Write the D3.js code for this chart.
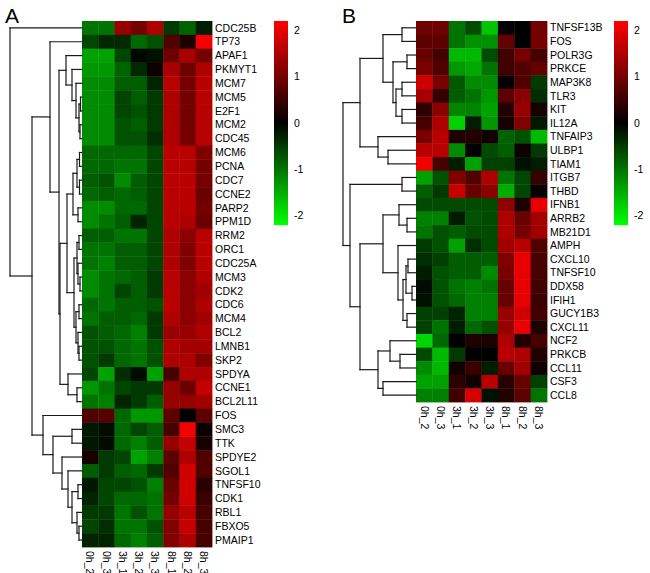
<!DOCTYPE html>
<html>
<head>
<meta charset="utf-8">
<script src="https://cdn.jsdelivr.net/npm/d3@7"></script>
<style>
  body { margin: 0; background: #fff; }
  text { font-family: "Liberation Sans", Arial, sans-serif; }
</style>
</head>
<body>
<svg id="chart" width="650" height="573"></svg>
<script>
// samples (columns), same for both panels
var samples = ["0h_2", "0h_3", "3h_1", "3h_2", "3h_3", "8h_1", "8h_2", "8h_3"];
var legendTicks = [2, 1, 0, -1, -2];

// panel A genes in row order
var genesA = ["CDC25B","TP73","APAF1","PKMYT1","MCM7","MCM5","E2F1","MCM2","CDC45","MCM6",
  "PCNA","CDC7","CCNE2","PARP2","PPM1D","RRM2","ORC1","CDC25A","MCM3","CDK2","CDC6","MCM4",
  "BCL2","LMNB1","SKP2","SPDYA","CCNE1","BCL2L11","FOS","SMC3","TTK","SPDYE2","SGOL1",
  "TNFSF10","CDK1","RBL1","FBXO5","PMAIP1"];

// z-scores, one row per gene, columns follow samples
var valuesA = [
  [-1.0,-1.0, 1.3, 1.0, 1.5,-0.5,-0.85,-0.25],
  [-0.6,-0.35,-0.35,-0.9,-0.7, 0.7, 0.25, 2.1],
  [-1.4,-1.4,-0.6,-0.05,-0.15, 0.95, 1.45, 1.0],
  [-1.3,-1.3,-0.85,-0.35, 0.1, 1.45, 0.95, 1.5],
  [-1.2,-1.2,-0.8,-0.8,-0.3, 1.6, 1.0, 1.6],
  [-1.2,-1.2,-0.6,-0.8,-0.5, 1.5, 1.0, 1.6],
  [-1.2,-1.2,-0.6,-0.7,-0.5, 1.5, 1.0, 1.6],
  [-1.2,-1.2,-0.7,-0.8,-0.5, 1.5, 1.0, 1.6],
  [-1.2,-1.2,-0.7,-0.7,-0.4, 1.5, 1.0, 1.6],
  [-0.9,-0.9,-0.9,-0.9,-0.6, 1.6, 1.6, 1.1],
  [-0.9,-0.9,-1.0,-1.0,-0.6, 1.6, 1.6, 1.0],
  [-0.8,-0.7,-1.2,-0.8,-0.6, 1.6, 1.6, 1.0],
  [-0.9,-0.8,-0.9,-0.8,-0.6, 1.6, 1.6, 0.9],
  [-1.2,-1.2,-0.9,-0.9,-0.6, 1.6, 1.6, 1.0],
  [-1.2,-1.0,-0.8,-0.3,-0.6, 1.6, 1.5, 0.9],
  [-0.8,-0.8,-1.0,-1.0,-0.6, 1.5, 1.2, 1.6],
  [-1.0,-1.0,-0.8,-0.8,-0.6, 1.5, 1.1, 1.6],
  [-1.0,-1.1,-0.8,-0.8,-0.6, 1.5, 1.1, 1.6],
  [-1.2,-1.0,-0.9,-0.8,-0.5, 1.6, 1.2, 1.5],
  [-1.2,-1.0,-0.6,-0.8,-0.5, 1.6, 1.2, 1.4],
  [-0.9,-1.0,-0.8,-0.8,-0.7, 1.6, 1.2, 1.5],
  [-1.0,-0.8,-0.8,-0.9,-0.5, 1.5, 1.2, 1.4],
  [-0.7,-0.8,-0.9,-1.1,-0.5, 1.3, 1.3, 1.5],
  [-0.7,-0.7,-0.9,-1.0,-0.7, 1.5, 1.4, 1.4],
  [-0.7,-0.5,-0.9,-1.0,-0.7, 1.5, 1.5, 1.1],
  [-0.6,-1.4,-0.4,-0.1,-1.4, 0.6, 1.5, 1.5],
  [-1.3,-1.0,-0.6,-0.5,-0.5, 1.3, 0.9, 1.7],
  [-1.0,-1.1,-0.3,-0.5,-0.8, 1.3, 1.3, 1.4],
  [ 0.7, 0.75,-0.9,-1.3,-1.3, 0.8, 0.0, 0.8],
  [-0.2,-0.1,-0.9,-0.6,-0.8, 0.6, 2.1, 0.1],
  [-0.2,-0.1,-0.9,-1.1,-0.8, 1.3, 1.7, 0.2],
  [ 0.2,-0.5,-0.6,-1.4,-1.1, 0.8, 1.5, 0.7],
  [-0.8,-0.5,-0.8,-0.9,-0.5, 0.7, 1.8, 0.7],
  [-0.2,-0.6,-0.6,-0.7,-1.1, 0.9, 1.8, 0.35],
  [-0.3,-0.6,-0.9,-0.9,-1.0, 1.0, 1.8, 0.5],
  [-0.5,-0.5,-1.0,-0.7,-1.0, 1.3, 1.6, 0.6],
  [-0.6,-0.4,-1.0,-1.0,-0.7, 1.1, 1.7, 0.6],
  [-0.3,-0.3,-0.9,-1.1,-0.8, 1.1, 1.5, 0.6]
];

// row dendrogram A: [mergeHeight, left, right]
var treeA = [72, "CDC25B",
  [50,
    [32, "TP73",
      [23,
        [16, "APAF1", [10, "PKMYT1", [6, "MCM7", [3, [1.5, "MCM5", "E2F1"], [2, "MCM2", "CDC45"]]]]],
        [22,
          [15,
            [9, [5, [2.5, "MCM6", "PCNA"], [2.5, "CDC7", "CCNE2"]], [4, "PARP2", "PPM1D"]],
            [8, [5, [3, "RRM2", "ORC1"], [4, "CDC25A", [2, "MCM3", "CDK2"]]],
                [6, [3, "CDC6", "MCM4"], [4, "BCL2", [3, "LMNB1", "SKP2"]]]]
          ],
          [14, "SPDYA", [5, "CCNE1", "BCL2L11"]]
        ]
      ]
    ],
    [39, "FOS",
      [29, [10, "SMC3", "TTK"],
        [20, "SPDYE2", [14, "SGOL1", [10, [4, "TNFSF10", "CDK1"], [5, "RBL1", [3, "FBXO5", "PMAIP1"]]]]]
      ]
    ]
  ]
];

// panel B
var genesB = ["TNFSF13B","FOS","POLR3G","PRKCE","MAP3K8","TLR3","KIT","IL12A","TNFAIP3",
  "ULBP1","TIAM1","ITGB7","THBD","IFNB1","ARRB2","MB21D1","AMPH","CXCL10","TNFSF10","DDX58",
  "IFIH1","GUCY1B3","CXCL11","NCF2","PRKCB","CCL11","CSF3","CCL8"];

var valuesB = [
  [ 0.95, 0.95,-1.0,-0.65,-1.7, 0.05, 0.0, 1.0],
  [ 0.8, 0.8,-1.0,-1.25,-1.25, 0.85, 0.0, 1.0],
  [ 0.9, 0.6,-1.6,-1.6,-0.65, 0.55, 1.0, 0.6],
  [ 1.05, 0.7,-1.3,-1.45,-1.0, 0.55, 0.7, 0.85],
  [ 1.8, 1.05,-0.75,-1.2,-1.2, 0.05, 0.7,-0.5],
  [ 1.45, 0.45,-0.8,-1.0,-1.3, 0.8, 1.2,-0.4],
  [ 0.4, 1.2,-1.15,-1.15,-1.4, 0.3, 1.3, 0.2],
  [ 0.6, 1.5,-1.8,-0.25,-1.3, 0.2, 1.1,-0.2],
  [ 1.05, 1.6, 0.25, 0.3, 0.15,-0.85,-0.7,-1.6],
  [ 1.6, 1.6,-1.2, 0.0,-0.65,-0.8, 0.1,-0.5],
  [ 2.1, 0.6,-0.25,-1.4,-0.55,-0.55,-0.15,-0.25],
  [-1.4,-0.7, 1.1, 0.7, 1.5,-1.0,-0.6, 0.45],
  [-0.8,-0.5, 1.7, 0.9, 1.2,-1.5,-0.6, 0.05],
  [-0.65,-0.65,-0.65,-0.65,-0.65, 1.25, 0.25, 2.0],
  [-1.1,-1.1,-0.25,-0.7,-0.65, 1.5, 0.9, 1.4],
  [-1.0,-0.7,-0.8,-0.65,-0.65, 1.5, 1.0, 1.4],
  [-0.5,-0.7,-1.4,-0.4,-0.65, 1.4, 1.6, 0.7],
  [-0.4,-0.55,-0.8,-0.8,-0.8, 1.1, 2.0, 0.6],
  [-0.25,-0.7,-0.8,-0.8,-1.2, 1.05, 2.0, 0.6],
  [-0.1,-0.7,-1.0,-1.1,-1.0, 0.9, 2.0, 0.55],
  [-0.15,-0.7,-0.9,-1.1,-1.1, 0.9, 2.0, 0.5],
  [-0.55,-0.55,-0.3,-1.1,-1.1, 1.3, 1.8, 0.55],
  [-0.55,-1.0,-0.25,-0.9,-0.7, 1.3, 2.0, 0.25],
  [-1.85,-0.9, 0.0, 0.25, 0.25, 1.5, 0.3, 0.6],
  [-0.65,-1.6,-0.5, 0.0, 0.0, 1.6, 1.5, 0.3],
  [-1.2,-1.6, 0.15, 0.5,-0.25, 0.9, 1.4, 0.15],
  [-1.4,-1.4, 0.4, 0.15, 1.6, 0.35, 0.9,-0.55],
  [-1.1,-1.1, 0.55, 1.85,-0.15, 0.3, 0.8,-1.0]
];

var treeB = [73,
  [56,
    [33, [14, "TNFSF13B", "FOS"],
      [23, [9, "POLR3G", "PRKCE"], [20, [14, "MAP3K8", "TLR3"], [14, "KIT", "IL12A"]]]],
    [38, "TNFAIP3", [28, "ULBP1", "TIAM1"]]
  ],
  [66,
    [14, "ITGB7", "THBD"],
    [56,
      [33,
        [17, "IFNB1", [9, "ARRB2", "MB21D1"]],
        [18, "AMPH", [13, [10, [8, "CXCL10", "TNFSF10"], [4, "DDX58", "IFIH1"]], [9, "GUCY1B3", "CXCL11"]]]
      ],
      [38, [26, "NCF2", [16, "PRKCB", "CCL11"]], [33, "CSF3", "CCL8"]]
    ]
  ]
];

var svg = d3.select("#chart");

var color = d3.scaleLinear()
  .domain([-2.2, 0, 2.2])
  .range(["#00ff00", "#000000", "#ff0000"])
  .clamp(true);

function drawPanel(p) {
  var g = svg.append("g");
  var x = d3.scaleBand().domain(samples).range([p.left, p.right]);
  var y = d3.scaleBand().domain(p.genes).range([p.top, p.bottom]);

  // cells
  p.genes.forEach(function(gene, i) {
    g.selectAll(null)
      .data(p.values[i])
      .enter().append("rect")
      .attr("x", function(d, j) { return x(samples[j]); })
      .attr("y", y(gene))
      .attr("width", x.bandwidth() + 0.4)
      .attr("height", y.bandwidth() + 0.4)
      .attr("fill", function(d) { return color(d); });
  });

  // row labels
  g.selectAll(".rowlab")
    .data(p.genes)
    .enter().append("text")
    .attr("x", p.right + 3)
    .attr("y", function(d) { return y(d) + y.bandwidth() / 2; })
    .attr("dy", "0.35em")
    .style("font-size", "10.5px")
    .text(function(d) { return d; });

  // column labels, rotated
  g.selectAll(".collab")
    .data(samples)
    .enter().append("text")
    .attr("transform", function(d) {
      return "translate(" + (x(d) + x.bandwidth() / 2) + "," + (p.bottom + 4) + ") rotate(90)";
    })
    .attr("dy", "0.35em")
    .style("font-size", "10.5px")
    .text(function(d) { return d; });

  // dendrogram
  var root = d3.hierarchy(p.tree, function(d) { return Array.isArray(d) ? d.slice(1) : null; });
  var hx = d3.scaleLinear().domain([0, p.tree[0]]).range([p.left, p.dendroLeft]);
  root.eachAfter(function(n) {
    if (!n.children) {
      n.py = y(n.data) + y.bandwidth() / 2;
      n.px = p.left;
    } else {
      n.py = d3.mean(n.children, function(c) { return c.py; });
      n.px = hx(n.data[0]);
    }
  });
  var segs = [];
  root.each(function(n) {
    if (!n.children) return;
    segs.push([n.px, n.children[0].py, n.px, n.children[1].py]);
    n.children.forEach(function(c) { segs.push([n.px, c.py, c.px, c.py]); });
  });
  g.selectAll(".dendro")
    .data(segs)
    .enter().append("line")
    .attr("x1", function(d) { return d[0]; })
    .attr("y1", function(d) { return d[1]; })
    .attr("x2", function(d) { return d[2]; })
    .attr("y2", function(d) { return d[3]; })
    .attr("stroke", "#1a1a1a")
    .attr("stroke-width", 1.2)
    .attr("stroke-linecap", "square");

  // colour key
  var ly = d3.scaleLinear().domain([2.2, -2.2]).range([p.legTop, p.legBottom]);
  var steps = d3.range(p.legTop, p.legBottom, 1);
  g.selectAll(".key")
    .data(steps)
    .enter().append("rect")
    .attr("x", p.legX)
    .attr("y", function(d) { return d; })
    .attr("width", 14)
    .attr("height", 1.2)
    .attr("fill", function(d) { return color(ly.invert(d + 0.5)); });
  g.selectAll(".keylab")
    .data(legendTicks)
    .enter().append("text")
    .attr("x", p.legX + 20)
    .attr("y", function(d) { return ly(d); })
    .attr("dy", "0.35em")
    .style("font-size", "10.5px")
    .text(function(d) { return d; });

  // panel letter
  svg.append("text")
    .attr("x", p.letterX)
    .attr("y", 23)
    .style("font-size", "21px")
    .text(p.letter);
}

drawPanel({
  letter: "A", letterX: 5,
  genes: genesA, values: valuesA, tree: treeA,
  left: 82, right: 212, top: 21, bottom: 547, dendroLeft: 10,
  legX: 274, legTop: 21, legBottom: 225
});

drawPanel({
  letter: "B", letterX: 342,
  genes: genesB, values: valuesB, tree: treeB,
  left: 416, right: 547, top: 21, bottom: 402, dendroLeft: 343,
  legX: 614, legTop: 21, legBottom: 225
});
</script>
</body>
</html>
